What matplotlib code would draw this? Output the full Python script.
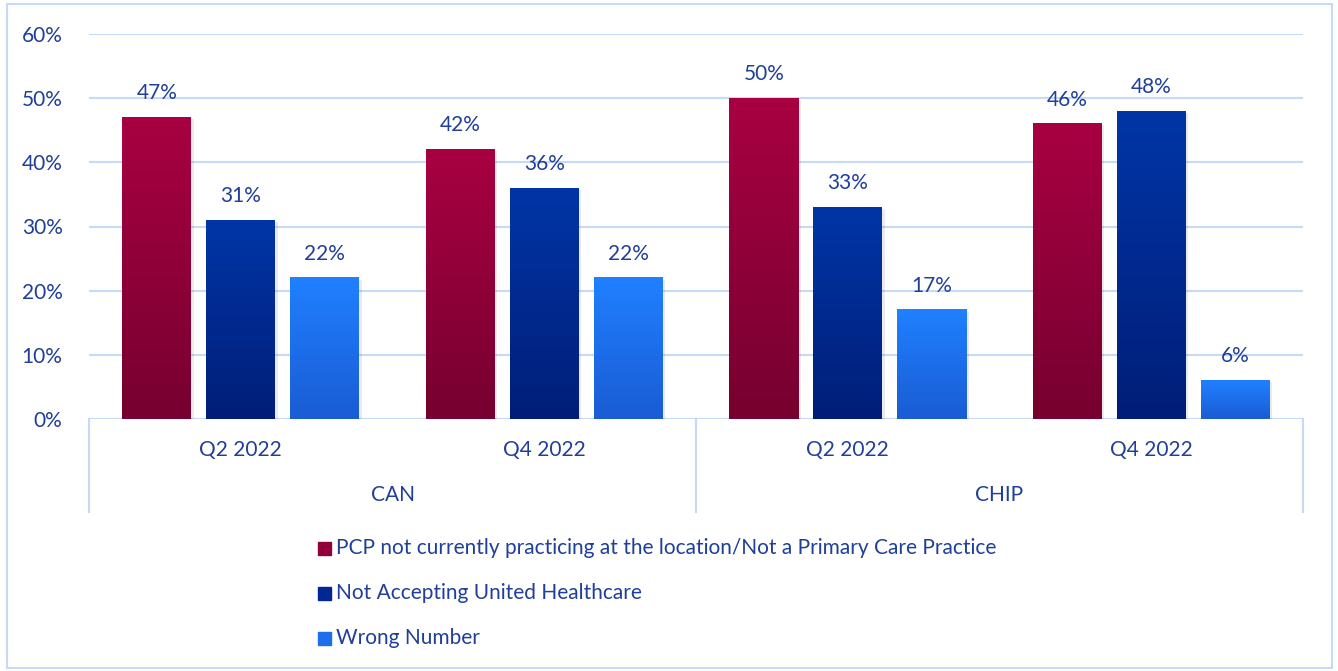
import numpy as np
import matplotlib.pyplot as plt
from matplotlib.patches import Rectangle
from matplotlib.colors import LinearSegmentedColormap

# data
groups = ['CAN', 'CHIP']
quarters = ['Q2 2022', 'Q4 2022', 'Q2 2022', 'Q4 2022']
series_names = ['PCP not currently practicing at the location/Not a Primary Care Practice',
                'Not Accepting United Healthcare',
                'Wrong Number']
pcp_vals = [47, 42, 50, 46]
not_accepting_vals = [31, 36, 33, 48]
wrong_number_vals = [22, 22, 17, 6]
y_ticks = [0, 10, 20, 30, 40, 50, 60]

series = [pcp_vals, not_accepting_vals, wrong_number_vals]
# (top colour, bottom colour) for each series
grads = [('#A80042', '#76002F'), ('#0035A6', '#001E78'), ('#2080FF', '#1A5CD4')]
mid_cols = ['#90003A', '#002890', '#1C6EEA']
txt_col = '#1F3F99'
grid_col = '#C6DAF8'
fs = 15

plt.rcParams['font.family'] = ['Lato', 'DejaVu Sans']

fig = plt.figure(figsize=(13.38, 6.71), dpi=100)
ax = fig.add_axes([89/1338, 1 - 419/671, (1303 - 89)/1338, 385/671])

# outer border
fig.patches.append(Rectangle((7/1338, 3/671), 1325/1338, 664/671, transform=fig.transFigure,
                             fill=False, edgecolor=grid_col, linewidth=1.5))

width = 69/303.5
step = 84/303.5
x = np.arange(len(quarters)) + 0.5

for i, (vals, (c_top, c_bot)) in enumerate(zip(series, grads)):
    cmap = LinearSegmentedColormap.from_list('g%d' % i, [c_bot, c_top])
    xs = x + (i - 1) * step
    for xi, v in zip(xs, vals):
        left = xi - width/2
        # faint shadow
        ax.add_patch(Rectangle((left + 0.008, -0.3), width, v, color='#000000', alpha=0.08,
                               zorder=2, linewidth=0))
        grad = np.linspace(0, 1, 100).reshape(-1, 1)
        ax.imshow(grad, cmap=cmap, aspect='auto', origin='lower',
                  extent=[left, left + width, 0, v], zorder=3)
        ax.text(xi, v + 2.2, f'{v}%', ha='center', va='bottom', fontsize=fs, color=txt_col, zorder=4)

ax.set_xlim(0, 4)
ax.set_ylim(0, 60)
ax.set_yticks(y_ticks)
ax.set_yticklabels([f'{t}%' for t in y_ticks], fontsize=fs, color=txt_col)
ax.tick_params(axis='y', length=0, pad=19)
ax.set_xticks([])
ax.grid(axis='y', color=grid_col, linewidth=1.5, zorder=0)
ax.set_axisbelow(True)
for s in ax.spines.values():
    s.set_visible(False)

# category axis (two levels)
ax.axhline(0, color=grid_col, linewidth=1.5, zorder=1)
bottom = -(512 - 419) / 385
for xv in [0, 2, 4]:
    ax.plot([xv, xv], [0, bottom], transform=ax.get_xaxis_transform(), color=grid_col,
            linewidth=1.5, clip_on=False)
for xi, q in zip(x, quarters):
    ax.text(xi, -(450 - 419) / 385, q, transform=ax.get_xaxis_transform(), ha='center',
            va='center', fontsize=fs, color=txt_col)
for gi, g in enumerate(groups):
    ax.text(1 + 2*gi, -(495 - 419) / 385, g, transform=ax.get_xaxis_transform(), ha='center',
            va='center', fontsize=fs, color=txt_col)

# legend
for i, name in enumerate(series_names):
    yc = 1 - (548 + 45*i) / 671
    fig.patches.append(Rectangle((318/1338, yc - 6.5/671), 13/1338, 13/671, transform=fig.transFigure,
                                 color=mid_cols[i]))
    fig.text(336/1338, yc, name, ha='left', va='center', fontsize=fs, color=txt_col)

fig.savefig('out.png', dpi=100)
